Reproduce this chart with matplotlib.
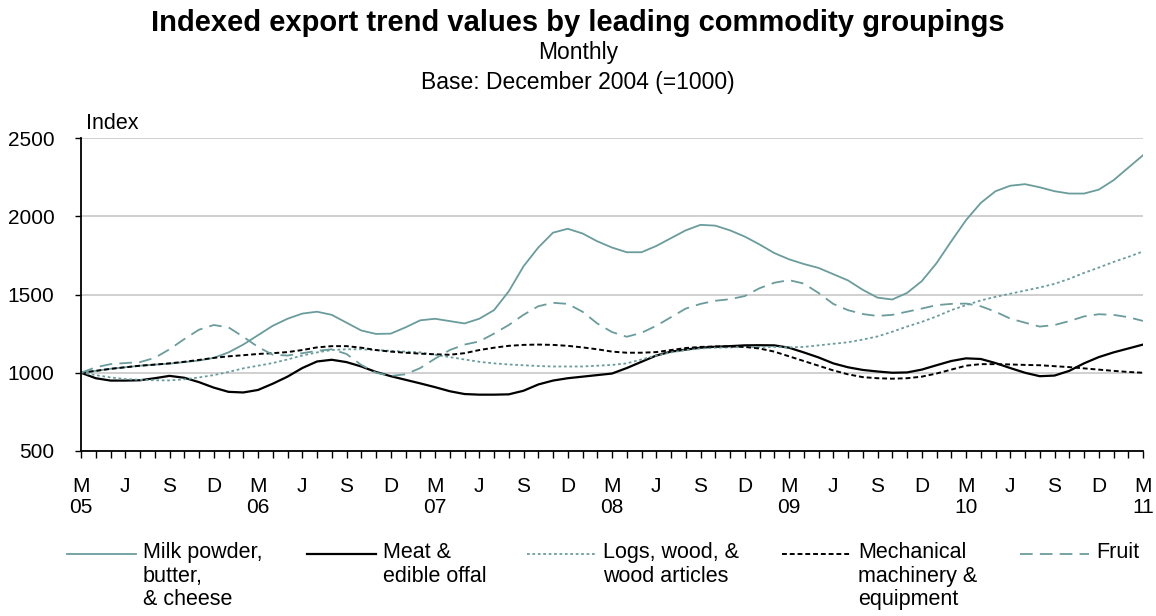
import numpy as np
import matplotlib
matplotlib.use("Agg")
import matplotlib.pyplot as plt
from matplotlib.lines import Line2D
from matplotlib.ticker import MultipleLocator

plt.rcParams['font.family'] = ['Liberation Sans', 'DejaVu Sans']

# monthly index values, March 2005 .. March 2011 (73 months)
milk = [1000, 1012, 1025, 1035, 1045, 1052, 1058, 1068, 1078, 1095, 1130, 1180, 1240,
        1300, 1345, 1378, 1390, 1370, 1320, 1270, 1248, 1250, 1290, 1335, 1345,
        1330, 1315, 1345, 1400, 1520, 1680, 1800, 1895, 1920, 1890, 1840, 1800,
        1770, 1770, 1810, 1860, 1910, 1945, 1940, 1910, 1870, 1820, 1765, 1725,
        1695, 1670, 1630, 1590, 1530, 1480, 1468, 1510, 1585, 1700, 1840, 1975,
        2085, 2160, 2195, 2205, 2185, 2160, 2145, 2145, 2170, 2230, 2310, 2390]
meat = [1000, 965, 950, 950, 952, 965, 980, 968, 940, 905, 878, 874, 890,
        930, 975, 1030, 1072, 1083, 1068, 1040, 1005, 978, 955, 932, 908,
        882, 864, 860, 860, 862, 885, 925, 950, 965, 975, 985, 995,
        1030, 1070, 1110, 1135, 1148, 1160, 1166, 1170, 1175, 1176, 1175, 1160,
        1130, 1098, 1060, 1035, 1018, 1008, 1000, 1002, 1020, 1048, 1075, 1092,
        1088, 1062, 1030, 1000, 978, 982, 1012, 1060, 1100, 1130, 1155, 1180]
logs = [1000, 985, 970, 960, 955, 952, 951, 958, 970, 985, 1005, 1028, 1045,
        1062, 1085, 1110, 1130, 1145, 1150, 1150, 1145, 1140, 1135, 1130, 1115,
        1100, 1085, 1070, 1060, 1053, 1048, 1043, 1040, 1040, 1040, 1045, 1050,
        1060, 1085, 1110, 1130, 1145, 1155, 1160, 1162, 1165, 1165, 1165, 1162,
        1165, 1175, 1185, 1195, 1212, 1232, 1262, 1295, 1325, 1360, 1400, 1432,
        1462, 1485, 1505, 1525, 1545, 1568, 1600, 1638, 1672, 1708, 1740, 1775]
mech = [1000, 1012, 1025, 1035, 1045, 1052, 1060, 1070, 1082, 1095, 1105, 1112, 1120,
        1125, 1132, 1145, 1162, 1170, 1170, 1160, 1145, 1135, 1128, 1122, 1118,
        1115, 1125, 1145, 1160, 1172, 1178, 1180, 1178, 1172, 1162, 1150, 1135,
        1128, 1128, 1132, 1145, 1158, 1165, 1168, 1168, 1165, 1155, 1135, 1105,
        1075, 1045, 1015, 990, 972, 965, 962, 965, 975, 995, 1020, 1045,
        1055, 1055, 1053, 1050, 1048, 1042, 1036, 1028, 1020, 1012, 1005, 1000]
fruit = [1000, 1035, 1055, 1062, 1068, 1095, 1150, 1215, 1275, 1305, 1290, 1230, 1165,
         1115, 1110, 1125, 1140, 1150, 1120, 1050, 1000, 980, 990, 1030, 1090,
         1145, 1180, 1200, 1250, 1305, 1370, 1425, 1447, 1440, 1390, 1315, 1260,
         1230, 1255, 1300, 1355, 1410, 1440, 1460, 1470, 1490, 1540, 1575, 1592,
         1570, 1510, 1440, 1400, 1375, 1363, 1370, 1390, 1410, 1432, 1440, 1442,
         1425, 1390, 1346, 1320, 1295, 1305, 1330, 1360, 1374, 1370, 1355, 1331]

quarter_labels = ["M\n05", "J", "S", "D", "M\n06", "J", "S", "D", "M\n07", "J", "S", "D",
                  "M\n08", "J", "S", "D", "M\n09", "J", "S", "D", "M\n10", "J", "S", "D",
                  "M\n11"]
series_names = ["Milk powder,\nbutter,\n& cheese", "Meat &\nedible offal",
                "Logs, wood, &\nwood articles", "Mechanical\nmachinery &\nequipment", "Fruit"]

TEAL = "#6a9c9c"
styles = [
    dict(color=TEAL, lw=1.3, ls="-"),
    dict(color="black", lw=1.6, ls="-"),
    dict(color=TEAL, lw=1.3, ls=(0, (1.5, 1.5))),
    dict(color="black", lw=1.4, ls=(0, (2.5, 1.5))),
    dict(color=TEAL, lw=1.3, ls=(0, (7, 4))),
]

fig = plt.figure(figsize=(11.56, 6.16), dpi=100)
ax = fig.add_axes([81 / 1156, 1 - 451 / 616, (1143 - 81) / 1156, (451 - 138) / 616])

x = np.arange(len(milk))
for data, st in zip([milk, meat, logs, mech, fruit], styles):
    ax.plot(x, data, **st)

ax.set_xlim(0, len(milk) - 1)
ax.set_ylim(500, 2500)
ax.set_yticks([500, 1000, 1500, 2000, 2500])
ax.yaxis.grid(True, color="#c8c8c8", lw=1.2)
ax.set_axisbelow(True)
ax.set_xticks(np.arange(0, len(milk), 3))
ax.set_xticklabels(quarter_labels, fontsize=15, linespacing=1.1, va="top")
ax.xaxis.set_minor_locator(MultipleLocator(1))
ax.tick_params(axis="x", which="both", direction="out", length=5, width=1, pad=14)
ax.tick_params(axis="y", direction="out", length=4, width=1, pad=15, labelsize=15)
for s in ["top", "right"]:
    ax.spines[s].set_visible(False)
for s in ["left", "bottom"]:
    ax.spines[s].set_linewidth(1.3)

ax.text(0.005, 1.012, "Index", transform=ax.transAxes, fontsize=15.5, va="bottom", ha="left")

fig.text(0.5, 1 - 23 / 616, "Indexed export trend values by leading commodity groupings",
         ha="center", va="center", fontsize=21, fontweight="bold")
fig.text(0.5, 1 - 53 / 616, "Monthly", ha="center", va="center", fontsize=16.5)
fig.text(0.5, 1 - 83 / 616, "Base: December 2004 (=1000)", ha="center", va="center",
         fontsize=16.5)

# legend along the bottom
text_x = [143, 383, 603, 858, 1096]
ly = 1 - 554 / 616
for tx, name, st in zip(text_x, series_names, styles):
    fig.add_artist(Line2D([(tx - 76) / 1156, (tx - 7) / 1156], [ly, ly],
                          transform=fig.transFigure, **st))
    fig.text(tx / 1156, ly + 12 / 616, name, ha="left", va="top", fontsize=15.5,
             linespacing=1.17)

fig.savefig("out.png", dpi=100)
